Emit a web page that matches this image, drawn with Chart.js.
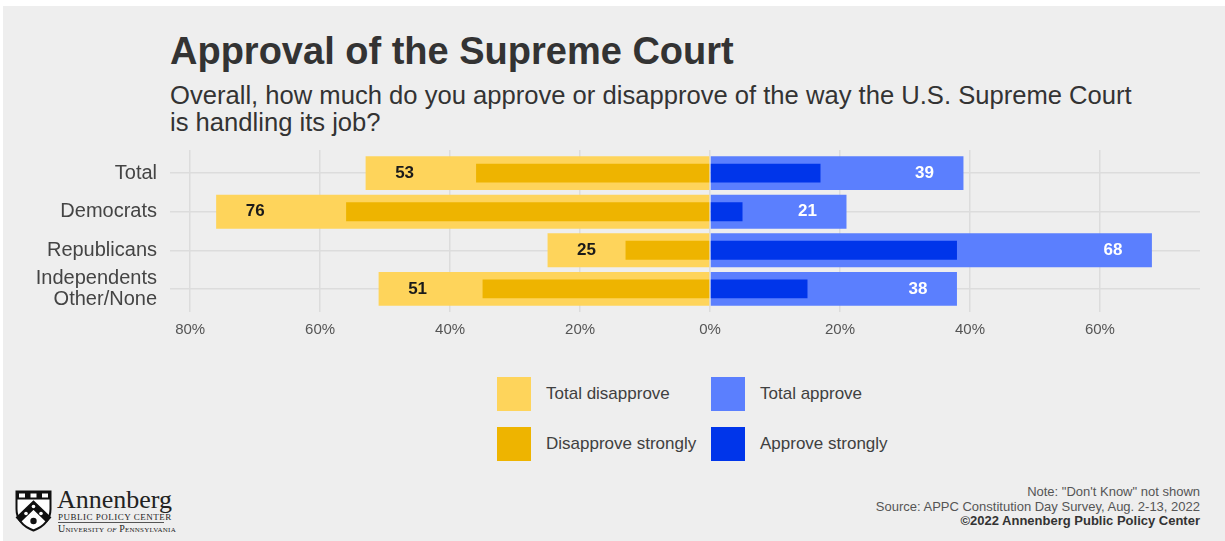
<!DOCTYPE html>
<html>
<head>
<meta charset="utf-8">
<script src="https://cdn.jsdelivr.net/npm/chart.js@4/dist/chart.umd.min.js"></script>
<style>
  body { margin: 0; background: #ffffff; font-family: "Liberation Sans", Arial, sans-serif; }
  #panel { position: absolute; left: 3px; top: 6px; width: 1222px; height: 535px; background: #eeeeee; }
  .abs { position: absolute; white-space: nowrap; }
  #title { left: 170px; top: 29px; font-size: 38px; line-height: 44px; font-weight: bold; color: #333333; }
  #subtitle { left: 170px; top: 82px; font-size: 25.6px; line-height: 27px; color: #333333; white-space: normal; width: 1040px; }
  #chartBox { position: absolute; left: 0; top: 140px; width: 1225px; height: 202px; }
  #legend { left: 497px; top: 377px; }
  .item { position: absolute; height: 34px; }
  .swatch { position: absolute; left: 0; top: 0; width: 34px; height: 34px; }
  .item span { position: absolute; left: 49px; top: 0; line-height: 34px; font-size: 17px; color: #404040; white-space: nowrap; }
  #notes { right: 25px; top: 485px; text-align: right; font-size: 13px; line-height: 14.5px; color: #555555; }
  #notes b { color: #333333; }
  #logo { left: 15px; top: 489px; width: 200px; height: 46px; color: #222222; }
  .serif { font-family: "Liberation Serif", "DejaVu Serif", serif; }
</style>
</head>
<body>
<div id="panel"></div>
<div id="title" class="abs">Approval of the Supreme Court</div>
<div id="subtitle" class="abs">Overall, how much do you approve or disapprove of the way the U.S. Supreme Court<br>is handling its job?</div>
<div id="chartBox"><canvas id="chart"></canvas></div>
<div id="legend" class="abs"></div>
<div id="notes" class="abs">Note: "Don't Know" not shown<br>Source: APPC Constitution Day Survey, Aug. 2-13, 2022<br><b>©2022 Annenberg Public Policy Center</b></div>
<div id="logo" class="abs">
  <svg width="37" height="42" viewBox="0 0 37 42" style="position:absolute;left:0;top:1px">
    <path d="M1.5,1.5 H35.5 V19 Q35.5,34 18.5,40.5 Q1.5,34 1.5,19 Z" fill="#ffffff" stroke="#111111" stroke-width="2"/>
    <rect x="1.5" y="1.5" width="34" height="8" fill="#111111"/>
    <rect x="4" y="3.5" width="6" height="4" fill="#ffffff"/>
    <rect x="15.5" y="3.5" width="6" height="4" fill="#ffffff"/>
    <rect x="27" y="3.5" width="6" height="4" fill="#ffffff"/>
    <polyline points="3,30 18.5,15 34,30" fill="none" stroke="#111111" stroke-width="7"/>
    <circle cx="18.5" cy="16.5" r="1.8" fill="#ffffff"/>
    <circle cx="11" cy="23.5" r="1.8" fill="#ffffff"/>
    <circle cx="26" cy="23.5" r="1.8" fill="#ffffff"/>
    <circle cx="18.5" cy="31" r="3.2" fill="#111111"/>
  </svg>
  <div class="abs serif" style="left:42px;top:-2px;font-size:26px;line-height:26px;">Annenberg</div>
  <div class="abs serif" style="left:43px;top:23px;font-size:9px;line-height:10px;letter-spacing:0.5px;">PUBLIC POLICY CENTER</div>
  <div class="abs" style="left:43px;top:33px;width:106px;height:1px;background:#555555;"></div>
  <div class="abs serif" style="left:43px;top:35px;font-size:10px;line-height:10px;font-variant:small-caps;letter-spacing:0.2px;">University <i>of</i> Pennsylvania</div>
</div>
<script>
// Approval of the Supreme Court (APPC, Aug. 2022) — diverging bars
var categories = ['Total', 'Democrats', 'Republicans', ['Independents', 'Other/None']];
var totalDisapprove = [53, 76, 25, 51];
var disapproveStrongly = [36, 56, 13, 35];
var totalApprove = [39, 21, 68, 38];
var approveStrongly = [17, 5, 38, 15];
var xTicks = [-80, -60, -40, -20, 0, 20, 40, 60];
var legendLabels = ['Total disapprove', 'Total approve', 'Disapprove strongly', 'Approve strongly'];

(function () {
  var lightYellow = '#fed45b';
  var darkYellow = '#eeb400';
  var lightBlue = '#5b7ffe';
  var darkBlue = '#0035ea';
  var gridColor = '#dcdcdc';

  // value labels sit a little inside the end of the total bars
  var labelInset = 6;

  function points(values, sign) {
    return values.map(function (v, i) { return { x: sign * v, y: i + 1 }; });
  }

  function barSet(label, values, sign, color, pct) {
    return {
      label: label,
      data: points(values, sign),
      backgroundColor: color,
      borderWidth: 0,
      grouped: false,
      categoryPercentage: 1,
      barPercentage: pct
    };
  }

  var valueLabels = {
    id: 'valueLabels',
    afterDatasetsDraw: function (chart) {
      var ctx = chart.ctx;
      var xs = chart.scales.x;
      var ys = chart.scales.y;
      ctx.save();
      ctx.font = 'bold 17px "Liberation Sans", Arial, sans-serif';
      ctx.textAlign = 'center';
      ctx.textBaseline = 'middle';
      for (var i = 0; i < categories.length; i++) {
        var y = ys.getPixelForValue(i + 1);
        ctx.fillStyle = '#1a1a1a';
        ctx.fillText(String(totalDisapprove[i]), xs.getPixelForValue(-(totalDisapprove[i] - labelInset)), y);
        ctx.fillStyle = '#ffffff';
        ctx.fillText(String(totalApprove[i]), xs.getPixelForValue(totalApprove[i] - labelInset), y);
      }
      ctx.restore();
    }
  };

  // scales keep the plot box fixed: no extra room for overhanging labels
  function noPadding(s) {
    s.paddingTop = 0;
    s.paddingBottom = 0;
    s.paddingLeft = 0;
    s.paddingRight = 0;
  }

  // strong series first so they are painted on top of the totals
  var datasets = [
    barSet('Disapprove strongly', disapproveStrongly, -1, darkYellow, 0.49),
    barSet('Approve strongly', approveStrongly, 1, darkBlue, 0.49),
    barSet('Total disapprove', totalDisapprove, -1, lightYellow, 0.88),
    barSet('Total approve', totalApprove, 1, lightBlue, 0.88)
  ];

  new Chart(document.getElementById('chart').getContext('2d'), {
    type: 'bar',
    data: { datasets: datasets },
    plugins: [valueLabels],
    options: {
      indexAxis: 'y',
      responsive: true,
      maintainAspectRatio: false,
      animation: false,
      layout: { padding: { top: 10, right: 25, left: 0, bottom: 0 } },
      plugins: { legend: { display: false }, tooltip: { enabled: false } },
      scales: {
        x: {
          type: 'linear',
          min: -83.1,
          max: 75.4,
          afterBuildTicks: function (s) { s.ticks = xTicks.map(function (v) { return { value: v }; }); },
          afterFit: function (s) { s.height = 30; noPadding(s); },
          ticks: {
            autoSkip: false,
            maxRotation: 0,
            padding: 9,
            color: '#555555',
            font: { family: '"Liberation Sans", Arial, sans-serif', size: 15 },
            callback: function (v) { return Math.abs(v) + '%'; }
          },
          grid: { color: gridColor, lineWidth: 1.5, drawTicks: false },
          border: { display: false }
        },
        y: {
          type: 'linear',
          reverse: true,
          offset: false,
          min: 0.4,
          max: 4.6,
          afterBuildTicks: function (s) { s.ticks = categories.map(function (c, i) { return { value: i + 1 }; }); },
          afterFit: function (s) { s.width = 170; noPadding(s); },
          ticks: {
            autoSkip: false,
            padding: 13,
            color: '#444444',
            font: { family: '"Liberation Sans", Arial, sans-serif', size: 20, lineHeight: 1.05 },
            callback: function (v) { return categories[v - 1]; }
          },
          grid: { offset: false, color: gridColor, lineWidth: 1.5, drawTicks: false },
          border: { display: false }
        }
      }
    }
  });

  // legend: 2 x 2 grid, totals on the first row
  var legendColors = [lightYellow, lightBlue, darkYellow, darkBlue];
  var legend = document.getElementById('legend');
  legendLabels.forEach(function (name, i) {
    var item = document.createElement('div');
    item.className = 'item';
    item.style.left = (i % 2) * 214 + 'px';
    item.style.top = Math.floor(i / 2) * 50 + 'px';
    item.innerHTML = '<div class="swatch" style="background:' + legendColors[i] + '"></div><span>' + name + '</span>';
    legend.appendChild(item);
  });
})();
</script>
</body>
</html>
